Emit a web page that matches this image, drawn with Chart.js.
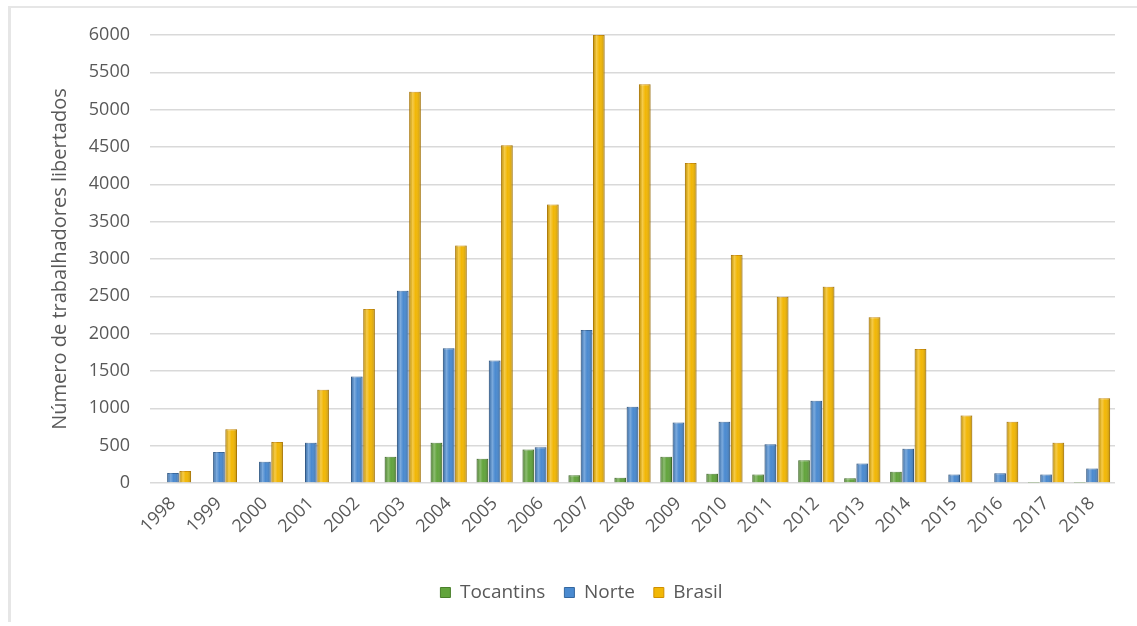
<!DOCTYPE html>
<html lang="pt">
<head>
<meta charset="utf-8">
<title>Trabalhadores libertados 1998-2018</title>
<script src="https://cdn.jsdelivr.net/npm/chart.js@4/dist/chart.umd.min.js"></script>
<style>
  html, body { margin: 0; padding: 0; background: #fff; }
  #wrap { position: relative; width: 1137px; height: 626px; }
  #frame { position: absolute; left: 8px; top: 6px; width: 1126px; height: 614px;
           border-top: 2px solid #e6e6e6; border-left: 3px solid #e6e6e6; }
  canvas { position: absolute; left: 0; top: 0; }
</style>
</head>
<body>
<div id="wrap">
  <div id="frame"></div>
  <canvas id="chart" width="1137" height="626"></canvas>
</div>
<script>
const anos = ['1998', '1999', '2000', '2001', '2002', '2003', '2004', '2005', '2006', '2007',
              '2008', '2009', '2010', '2011', '2012', '2013', '2014', '2015', '2016', '2017', '2018'];

const tocantins = [0, 10, 0, 10, 0, 350, 540, 325, 450, 105, 70, 350, 125, 115, 305, 65, 150, 10, 10, 5, 5];
const norte     = [135, 415, 285, 540, 1425, 2575, 1805, 1640, 480, 2050, 1020, 810, 820, 520, 1100, 260, 460, 115, 130, 115, 195];
const brasil    = [160, 720, 550, 1250, 2330, 5240, 3180, 4525, 3730, 5999, 5340, 4285, 3055, 2495, 2630, 2220, 1795, 905, 820, 540, 1135];

const yTicksMax = 6000;
const yTicksStep = 500;

const fonte = "'Open Sans', 'Noto Sans', sans-serif";
const corTexto = '#595959';

// light stripe on each bar for a rounded, cylinder-like look
const brilhoBarras = {
  id: 'brilhoBarras',
  afterDatasetsDraw(chart) {
    const ctx = chart.ctx;
    chart.data.datasets.forEach((ds, i) => {
      const meta = chart.getDatasetMeta(i);
      meta.data.forEach(bar => {
        const h = bar.base - bar.y;
        if (h < 2) return;
        const left = bar.x - bar.width / 2;
        const g = ctx.createLinearGradient(left, 0, left + bar.width, 0);
        g.addColorStop(0, 'rgba(0,0,0,0.18)');
        g.addColorStop(0.3, 'rgba(255,255,255,0.28)');
        g.addColorStop(0.55, 'rgba(255,255,255,0.0)');
        g.addColorStop(1, 'rgba(0,0,0,0.22)');
        ctx.save();
        ctx.fillStyle = g;
        ctx.fillRect(left, bar.y, bar.width, h);
        ctx.restore();
      });
    });
  }
};

const ctx = document.getElementById('chart').getContext('2d');
new Chart(ctx, {
  type: 'bar',
  data: {
    labels: anos,
    datasets: [
      { label: 'Tocantins', data: tocantins, backgroundColor: '#62a43c', borderColor: '#4a7f2b', borderWidth: 1 },
      { label: 'Norte', data: norte, backgroundColor: '#4a8ad0', borderColor: '#35679f', borderWidth: 1 },
      { label: 'Brasil', data: brasil, backgroundColor: '#f2b705', borderColor: '#cf8f00', borderWidth: 1 }
    ]
  },
  options: {
    responsive: false,
    animation: false,
    layout: { padding: { left: 48, right: 22, top: 35, bottom: 14 } },
    datasets: {
      bar: { categoryPercentage: 0.8, barPercentage: 0.95 }
    },
    plugins: {
      legend: {
        position: 'bottom',
        labels: {
          boxWidth: 10, boxHeight: 10, padding: 19,
          color: corTexto,
          font: { family: fonte, size: 19 }
        }
      },
      tooltip: { enabled: false }
    },
    scales: {
      x: {
        grid: { display: false },
        border: { display: false },
        ticks: {
          color: corTexto, minRotation: 45, maxRotation: 45, padding: 2,
          font: { family: fonte, size: 18 }
        },
        afterFit(scale) { scale.height = 81; }
      },
      y: {
        min: 0, max: yTicksMax,
        border: { display: false },
        grid: { color: '#d9d9d9', lineWidth: 1.5, drawTicks: false },
        ticks: {
          stepSize: yTicksStep, padding: 20, color: corTexto,
          font: { family: fonte, size: 18 },
          callback: v => String(v)
        },
        title: {
          display: true, text: 'Número de trabalhadores libertados',
          color: corTexto, padding: { top: 0, bottom: 2 },
          font: { family: fonte, size: 20 }
        },
        afterFit(scale) { scale.width = 102; }
      }
    }
  },
  plugins: [brilhoBarras]
});
</script>
</body>
</html>
